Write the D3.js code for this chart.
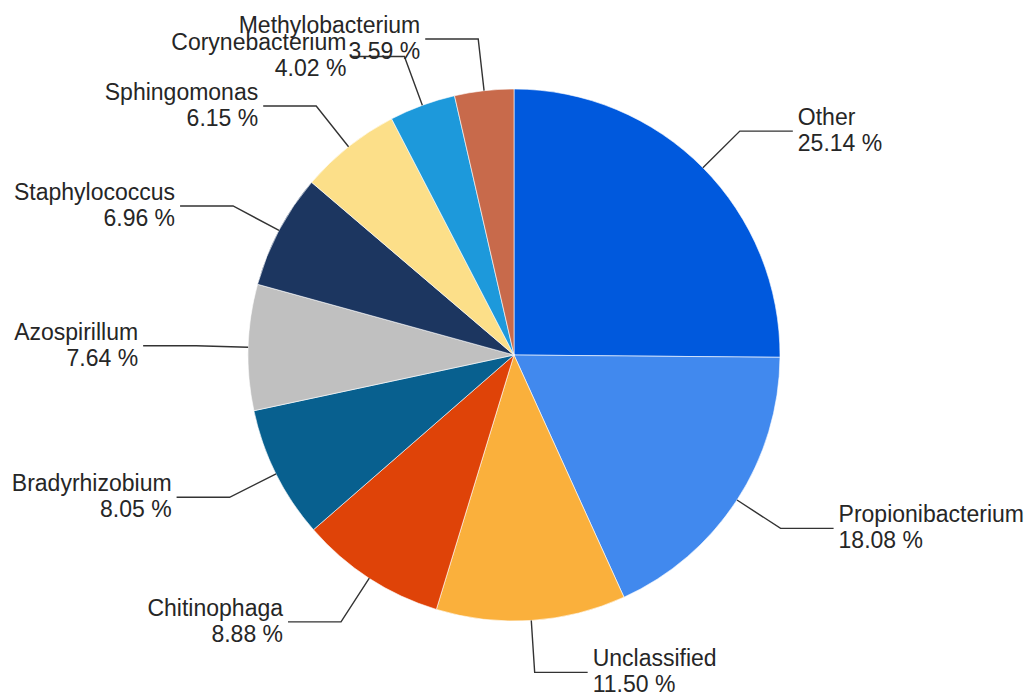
<!DOCTYPE html>
<html>
<head>
<meta charset="utf-8">
<script src="https://cdn.jsdelivr.net/npm/d3@7"></script>
<style>
  html, body { margin: 0; padding: 0; background: #ffffff; }
  svg { display: block; }
  text { font-family: "Liberation Sans", Arial, sans-serif; fill: #262626; }
</style>
</head>
<body>
<svg id="chart" width="1030" height="695"></svg>
<script>
// Genus composition (percent of reads), clockwise from 12 o'clock
const genera = ["Other", "Propionibacterium", "Unclassified", "Chitinophaga", "Bradyrhizobium",
                "Azospirillum", "Staphylococcus", "Sphingomonas", "Corynebacterium", "Methylobacterium"];
const percents = [25.14, 18.08, 11.50, 8.88, 8.05, 7.64, 6.96, 6.15, 4.02, 3.59];
const sliceColors = ["#0059dd", "#4189ee", "#fab03c", "#df4308", "#08608f",
                     "#c0c0c0", "#1c3660", "#fcdf89", "#1d99db", "#c86a4b"];

const svg = d3.select("#chart");
const cx = 514, cy = 355, radius = 266;
const elbowRadius = 318, tailLength = 53, textGap = 5;
const fontSize = 23, lineGap = 26;

const data = genera.map((name, i) => ({ name, value: percents[i], color: sliceColors[i] }));

const pie = d3.pie().value(d => d.value).sort(null);
const arc = d3.arc().innerRadius(0).outerRadius(radius);
const arcs = pie(data);

const g = svg.append("g").attr("transform", `translate(${cx},${cy})`);

g.selectAll("path.slice")
  .data(arcs)
  .join("path")
  .attr("class", "slice")
  .attr("d", arc)
  .attr("fill", d => d.data.color)
  .attr("stroke", "#ffffff")
  .attr("stroke-width", 0.6);

// polar helper: angle measured clockwise from 12 o'clock
const polar = (a, r) => [r * Math.sin(a), -r * Math.cos(a)];

const labels = g.selectAll("g.label").data(arcs).join("g").attr("class", "label");

labels.each(function (d) {
  const mid = (d.startAngle + d.endAngle) / 2;
  const right = Math.sin(mid) > 0;
  const p0 = polar(mid, radius);
  const p1 = polar(mid, elbowRadius);
  const p2 = [p1[0] + (right ? tailLength : -tailLength), p1[1]];
  const sel = d3.select(this);

  sel.append("polyline")
    .attr("points", [p0, p1, p2].map(p => p.join(",")).join(" "))
    .attr("fill", "none")
    .attr("stroke", "#333333")
    .attr("stroke-width", 1.4);

  const tx = p2[0] + (right ? textGap : -textGap);
  const t = sel.append("text")
    .attr("x", tx)
    .attr("y", p2[1] - 6)
    .attr("font-size", fontSize)
    .attr("text-anchor", right ? "start" : "end");
  t.append("tspan").attr("x", tx).text(d.data.name);
  t.append("tspan").attr("x", tx).attr("dy", lineGap).text(d.data.value.toFixed(2) + " %");
});
</script>
</body>
</html>
